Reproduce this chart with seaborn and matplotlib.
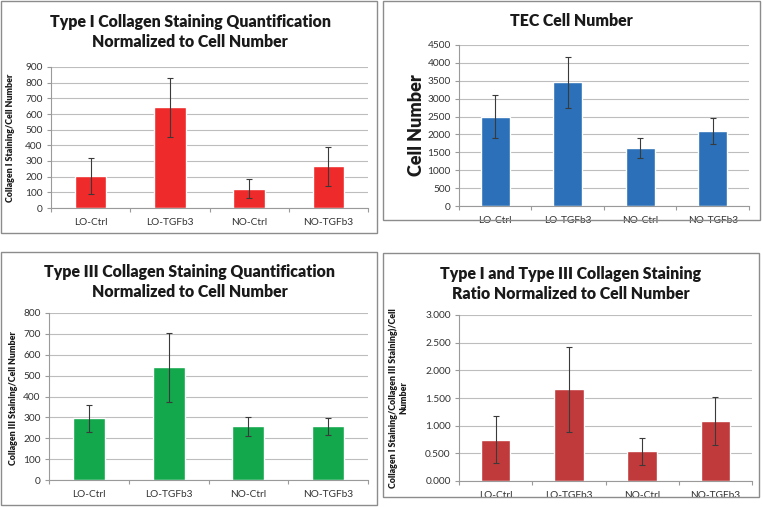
import numpy as np
import pandas as pd
import matplotlib
matplotlib.use("Agg")
import matplotlib.pyplot as plt
import seaborn as sns
from matplotlib.patches import Rectangle

groups = ["LO-Ctrl", "LO-TGFb3", "NO-Ctrl", "NO-TGFb3"]

col1_vals = [207, 642, 122, 267]
col1_err = [115, 187, 60, 125]

cells_vals = [2500, 3460, 1630, 2105]
cells_err = [610, 710, 280, 360]

col3_vals = [295, 540, 257, 257]
col3_err = [66, 166, 44, 41]

ratio_vals = [0.745, 1.655, 0.535, 1.085]
ratio_err = [0.425, 0.770, 0.250, 0.440]

W, H = 763, 507

sns.set_theme(style="white")
plt.rcParams["font.family"] = ["Lato", "DejaVu Sans"]

fig = plt.figure(figsize=(W / 100, H / 100), dpi=100)


def px_axes(left, top, right, bottom):
    return fig.add_axes([left / W, 1 - bottom / H, (right - left) / W, (bottom - top) / H])


def panel_border(x0, y0, x1, y1):
    fig.patches.append(Rectangle((x0 / W, 1 - y1 / H), (x1 - x0) / W, (y1 - y0) / H,
                                 transform=fig.transFigure, fill=False,
                                 edgecolor="#8c8c8c", linewidth=1.0))


def draw_panel(ax, vals, errs, color, yticks, fmt):
    df = pd.DataFrame({"group": groups, "value": vals})
    sns.barplot(data=df, x="group", y="value", color=color, width=0.4,
                saturation=1, ax=ax, zorder=2)
    ax.errorbar(np.arange(len(groups)), vals, yerr=errs, fmt="none",
                ecolor="#3a3a3a", elinewidth=0.8, capsize=2.5, capthick=0.8, zorder=3)
    ax.set_xlim(-0.5, len(groups) - 0.5)
    ax.set_ylim(yticks[0], yticks[-1])
    ax.set_yticks(yticks)
    ax.set_yticklabels([fmt.format(t) for t in yticks])
    ax.yaxis.grid(True, color="#bdbdbd", linewidth=0.8, zorder=0)
    ax.set_axisbelow(True)
    for s in ["top", "right"]:
        ax.spines[s].set_visible(False)
    for s in ["left", "bottom"]:
        ax.spines[s].set_color("#9a9a9a")
        ax.spines[s].set_linewidth(0.8)
    ax.set_xlabel("")
    ax.set_ylabel("")
    ax.tick_params(axis="y", labelsize=7.3, length=3, width=0.8, left=True, pad=3,
                   colors="#9a9a9a", labelcolor="#333333")
    # category labels without ticks, boundary ticks as minor
    ax.set_xticks(np.arange(len(groups)))
    ax.set_xticklabels(groups)
    ax.tick_params(axis="x", which="major", length=0, labelsize=7.3,
                   labelcolor="#333333", pad=7)
    ax.set_xticks(np.arange(len(groups) + 1) - 0.5, minor=True)
    ax.tick_params(axis="x", which="minor", length=3, width=0.8,
                   color="#9a9a9a", bottom=True)


TITLE_SIZE = 11.4

# panel 1
panel_border(1, 1, 377, 233)
ax1 = px_axes(51, 67, 368, 208)
draw_panel(ax1, col1_vals, col1_err, "#ee2a2a", list(range(0, 901, 100)), "{:.0f}")
fig.text(190 / W, 1 - 32 / H, "Type I Collagen Staining Quantification\nNormalized to Cell Number",
         ha="center", va="center", fontsize=TITLE_SIZE, fontweight="heavy", color="#1a1a1a",
         linespacing=1.25)
fig.text(11 / W, 1 - 138 / H, "Collagen I Staining/Cell Number", rotation=90,
         ha="center", va="center", fontsize=6.4, fontweight="heavy", color="#1a1a1a")

# panel 2
panel_border(383, 1, 760, 220)
ax2 = px_axes(459, 45, 749, 206)
draw_panel(ax2, cells_vals, cells_err, "#2b70b8", list(range(0, 4501, 500)), "{:.0f}")
fig.text(571 / W, 1 - 21 / H, "TEC Cell Number", ha="center", va="center",
         fontsize=TITLE_SIZE, fontweight="heavy", color="#1a1a1a")
fig.text(416 / W, 1 - 125 / H, "Cell Number", rotation=90, ha="center", va="center",
         fontsize=13, fontweight="heavy", color="#1a1a1a")

# panel 3
panel_border(1, 252, 377, 505)
ax3 = px_axes(49, 313, 368, 480)
draw_panel(ax3, col3_vals, col3_err, "#12a84b", list(range(0, 801, 100)), "{:.0f}")
fig.text(190 / W, 1 - 282 / H, "Type III Collagen Staining Quantification\nNormalized to Cell Number",
         ha="center", va="center", fontsize=TITLE_SIZE, fontweight="heavy", color="#1a1a1a",
         linespacing=1.25)
fig.text(14 / W, 1 - 398 / H, "Collagen III Staining/Cell Number", rotation=90,
         ha="center", va="center", fontsize=6.4, fontweight="heavy", color="#1a1a1a")

# panel 4
panel_border(383, 253, 759, 497)
ax4 = px_axes(459, 315, 752, 481)
draw_panel(ax4, ratio_vals, ratio_err, "#c03a3b", [0, 0.5, 1.0, 1.5, 2.0, 2.5, 3.0], "{:.3f}")
fig.text(571 / W, 1 - 284 / H, "Type I and Type III Collagen Staining\nRatio Normalized to Cell Number",
         ha="center", va="center", fontsize=TITLE_SIZE, fontweight="heavy", color="#1a1a1a",
         linespacing=1.25)
fig.text(398 / W, 1 - 398 / H, "Collagen I Staining/Collagen III Staining)/Cell\nNumber",
         rotation=90, ha="center", va="center", fontsize=6.4, fontweight="heavy",
         color="#1a1a1a", multialignment="center")

fig.savefig("out.png", dpi=100)
